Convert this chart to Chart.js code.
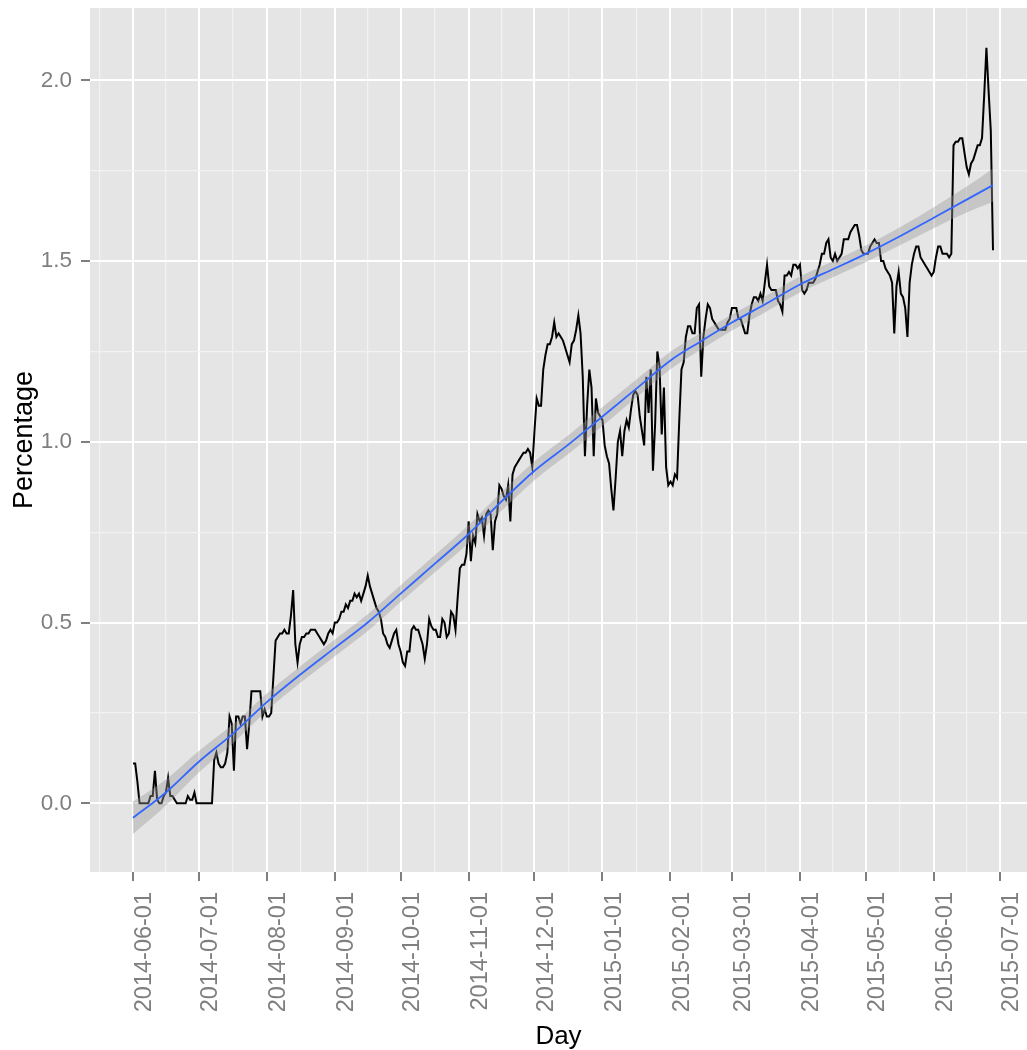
<!DOCTYPE html>
<html>
<head>
<meta charset="utf-8">
<title>Percentage by day</title>
<script src="https://cdn.jsdelivr.net/npm/chart.js@4.4.1/dist/chart.umd.min.js"></script>
<style>
  html, body { margin: 0; padding: 0; background: #fff; }
  #chart { display: block; }
</style>
</head>
<body>
<canvas id="chart" width="1027" height="1050"></canvas>
<script>
// daily series, one value per day starting at startDate
const startDate = '2014-06-01';
const values = [
    0.11, 0.11, 0.06, 0.00, 0.00, 0.00, 0.00, 0.00, 0.02, 0.02,
    0.09, 0.01, 0.00, 0.00, 0.02, 0.03, 0.07, 0.02, 0.02, 0.01,
    0.00, 0.00, 0.00, 0.00, 0.00, 0.02, 0.01, 0.01, 0.03, 0.00,
    0.00, 0.00, 0.00, 0.00, 0.00, 0.00, 0.00, 0.12, 0.14, 0.11,
    0.10, 0.10, 0.11, 0.14, 0.24, 0.22, 0.09, 0.24, 0.24, 0.22,
    0.24, 0.24, 0.15, 0.22, 0.31, 0.31, 0.31, 0.31, 0.31, 0.24,
    0.26, 0.24, 0.24, 0.25, 0.35, 0.45, 0.46, 0.47, 0.47, 0.48,
    0.47, 0.47, 0.52, 0.59, 0.44, 0.39, 0.44, 0.46, 0.46, 0.47,
    0.47, 0.48, 0.48, 0.48, 0.47, 0.46, 0.45, 0.44, 0.45, 0.47,
    0.48, 0.47, 0.50, 0.50, 0.51, 0.53, 0.53, 0.55, 0.54, 0.56,
    0.56, 0.58, 0.57, 0.58, 0.56, 0.58, 0.60, 0.63, 0.60, 0.58,
    0.56, 0.54, 0.53, 0.51, 0.47, 0.46, 0.44, 0.43, 0.45, 0.47,
    0.48, 0.44, 0.42, 0.39, 0.38, 0.42, 0.42, 0.48, 0.49, 0.48,
    0.48, 0.46, 0.44, 0.40, 0.44, 0.51, 0.49, 0.48, 0.48, 0.46,
    0.46, 0.51, 0.50, 0.46, 0.47, 0.53, 0.52, 0.48, 0.57, 0.65,
    0.66, 0.66, 0.69, 0.78, 0.67, 0.74, 0.72, 0.80, 0.78, 0.79,
    0.74, 0.80, 0.81, 0.80, 0.70, 0.78, 0.80, 0.88, 0.87, 0.85,
    0.84, 0.88, 0.78, 0.91, 0.93, 0.94, 0.95, 0.96, 0.97, 0.97,
    0.98, 0.97, 0.93, 1.03, 1.12, 1.10, 1.10, 1.20, 1.24, 1.27,
    1.27, 1.29, 1.33, 1.29, 1.30, 1.29, 1.28, 1.26, 1.24, 1.22,
    1.27, 1.28, 1.31, 1.35, 1.30, 1.18, 0.96, 1.10, 1.20, 1.15,
    0.96, 1.12, 1.08, 1.07, 1.06, 0.99, 0.96, 0.94, 0.87, 0.81,
    0.90, 1.00, 1.03, 0.96, 1.03, 1.06, 1.04, 1.09, 1.13, 1.14,
    1.13, 1.07, 1.03, 0.99, 1.18, 1.08, 1.20, 0.92, 1.05, 1.25,
    1.21, 1.02, 1.15, 0.93, 0.88, 0.89, 0.88, 0.91, 0.90, 1.06,
    1.20, 1.22, 1.29, 1.32, 1.32, 1.30, 1.30, 1.37, 1.38, 1.18,
    1.29, 1.34, 1.38, 1.37, 1.34, 1.33, 1.32, 1.31, 1.31, 1.31,
    1.31, 1.33, 1.34, 1.37, 1.37, 1.37, 1.34, 1.34, 1.32, 1.30,
    1.30, 1.35, 1.38, 1.40, 1.40, 1.39, 1.41, 1.39, 1.44, 1.49,
    1.43, 1.42, 1.42, 1.42, 1.39, 1.38, 1.36, 1.46, 1.46, 1.47,
    1.46, 1.49, 1.49, 1.48, 1.49, 1.42, 1.41, 1.42, 1.44, 1.44,
    1.44, 1.45, 1.47, 1.49, 1.52, 1.52, 1.55, 1.56, 1.51, 1.50,
    1.52, 1.50, 1.51, 1.52, 1.56, 1.56, 1.56, 1.58, 1.59, 1.60,
    1.60, 1.57, 1.53, 1.52, 1.52, 1.52, 1.54, 1.55, 1.56, 1.55,
    1.55, 1.50, 1.50, 1.48, 1.47, 1.46, 1.44, 1.30, 1.43, 1.47,
    1.41, 1.40, 1.37, 1.29, 1.44, 1.49, 1.52, 1.54, 1.54, 1.51,
    1.50, 1.49, 1.48, 1.47, 1.46, 1.47, 1.51, 1.54, 1.54, 1.52,
    1.52, 1.52, 1.51, 1.52, 1.82, 1.83, 1.83, 1.84, 1.84, 1.80,
    1.76, 1.74, 1.77, 1.78, 1.80, 1.82, 1.82, 1.84, 1.96, 2.09,
    1.97, 1.86, 1.53
];

// loess fit + confidence band, read at a handful of days
const smoothDays  = [0, 15, 30, 46, 61, 76, 92, 107, 122, 138, 153, 168, 183, 199,
                     214, 230, 245, 258, 273, 288, 304, 320, 334, 350, 365, 380, 392];
const smoothFit   = [-0.04, 0.03, 0.115, 0.195, 0.28, 0.355, 0.43, 0.50, 0.58, 0.665, 0.745, 0.835, 0.92, 0.995,
                     1.07, 1.15, 1.225, 1.275, 1.33, 1.38, 1.435, 1.48, 1.52, 1.57, 1.62, 1.67, 1.71];
const smoothLower = [-0.085, -0.006, 0.085, 0.169, 0.256, 0.332, 0.407, 0.477, 0.557, 0.641, 0.72, 0.809, 0.894, 0.969,
                     1.044, 1.125, 1.201, 1.252, 1.308, 1.358, 1.413, 1.458, 1.497, 1.545, 1.591, 1.634, 1.664];
const smoothUpper = [0.005, 0.066, 0.145, 0.221, 0.304, 0.378, 0.453, 0.523, 0.603, 0.689, 0.77, 0.861, 0.946, 1.021,
                     1.096, 1.175, 1.249, 1.298, 1.352, 1.402, 1.457, 1.502, 1.543, 1.595, 1.649, 1.706, 1.756];

const monthLabels = ['2014-06-01', '2014-07-01', '2014-08-01', '2014-09-01', '2014-10-01', '2014-11-01',
                     '2014-12-01', '2015-01-01', '2015-02-01', '2015-03-01', '2015-04-01', '2015-05-01',
                     '2015-06-01', '2015-07-01'];
const yTicks = [0, 0.5, 1, 1.5, 2];
const yMinorTicks = [0.25, 0.75, 1.25, 1.75];

const FONT = "'Liberation Sans', Arial, sans-serif";
const GREY_TEXT = '#7f7f7f';

function dayOffset(label) {
    return Math.round((Date.parse(label) - Date.parse(startDate)) / 86400000);
}

const monthDays = monthLabels.map(dayOffset);
// minor breaks sit half way between the majors (plus one before the first one)
const minorDays = [monthDays[0] - (monthDays[1] - monthDays[0]) / 2];
for (let i = 1; i < monthDays.length; i++) {
    minorDays.push((monthDays[i - 1] + monthDays[i]) / 2);
}

const dailyPoints = values.map((v, i) => ({ x: i, y: v }));
const smoothPoints = ys => smoothDays.map((d, i) => ({ x: d, y: ys[i] }));

// grey ggplot panel behind everything
const panelBg = {
    id: 'panelBg',
    beforeDraw(chart) {
        const { ctx, chartArea } = chart;
        ctx.save();
        ctx.fillStyle = '#ffffff';
        ctx.fillRect(0, 0, chart.width, chart.height);
        ctx.fillStyle = '#e5e5e5';
        ctx.fillRect(chartArea.left, chartArea.top, chartArea.right - chartArea.left, chartArea.bottom - chartArea.top);
        ctx.restore();
    }
};

function gridFor(isMajor) {
    return {
        drawTicks: true,
        tickLength: 9,
        tickWidth: 2,
        tickColor: c => (c.tick && isMajor(c.tick.value)) ? GREY_TEXT : 'rgba(0,0,0,0)',
        color: c => (c.tick && isMajor(c.tick.value)) ? '#ffffff' : '#f2f2f2',
        lineWidth: c => (c.tick && isMajor(c.tick.value)) ? 2 : 1.2
    };
}

const ctx = document.getElementById('chart').getContext('2d');
const chart = new Chart(ctx, {
    type: 'line',
    data: {
        datasets: [
            {
                label: 'Percentage',
                data: dailyPoints,
                borderColor: '#000000',
                borderWidth: 2,
                pointRadius: 0,
                tension: 0,
                fill: false,
                order: 3
            },
            {
                label: 'lower',
                data: smoothPoints(smoothLower),
                borderWidth: 0,
                borderColor: 'rgba(0,0,0,0)',
                pointRadius: 0,
                cubicInterpolationMode: 'monotone',
                fill: false,
                order: 2
            },
            {
                label: 'upper',
                data: smoothPoints(smoothUpper),
                borderWidth: 0,
                borderColor: 'rgba(0,0,0,0)',
                backgroundColor: 'rgba(153,153,153,0.4)',
                pointRadius: 0,
                cubicInterpolationMode: 'monotone',
                fill: '-1',
                order: 1
            },
            {
                label: 'smooth',
                data: smoothPoints(smoothFit),
                borderColor: '#3366ff',
                borderWidth: 1.8,
                pointRadius: 0,
                cubicInterpolationMode: 'monotone',
                fill: false,
                order: 0
            }
        ]
    },
    options: {
        animation: false,
        responsive: false,
        devicePixelRatio: 1,
        layout: { padding: { top: 8, right: 0, bottom: 0, left: 0 } },
        plugins: {
            legend: { display: false },
            tooltip: { enabled: false }
        },
        scales: {
            x: {
                type: 'linear',
                min: -19.6,
                max: 407.5,
                afterBuildTicks: scale => {
                    scale.ticks = minorDays.concat(monthDays)
                        .filter(v => v >= scale.min && v <= scale.max)
                        .sort((a, b) => a - b)
                        .map(v => ({ value: v }));
                },
                afterFit: scale => {
                    scale.height = 178;
                    scale.paddingLeft = 0;
                    scale.paddingRight = 0;
                },
                ticks: {
                    autoSkip: false,
                    minRotation: 90,
                    maxRotation: 90,
                    padding: 11,
                    labelOffset: 12,
                    color: GREY_TEXT,
                    font: { family: FONT, size: 23.5 },
                    callback: v => {
                        const i = monthDays.indexOf(v);
                        return i >= 0 ? monthLabels[i] : '';
                    }
                },
                grid: gridFor(v => monthDays.includes(v)),
                border: { display: false },
                title: {
                    display: true,
                    text: 'Day',
                    color: '#000000',
                    font: { family: FONT, size: 26 },
                    padding: { top: 0, bottom: -2 }
                }
            },
            y: {
                type: 'linear',
                min: -0.19,
                max: 2.2,
                afterBuildTicks: scale => {
                    scale.ticks = yMinorTicks.concat(yTicks)
                        .sort((a, b) => a - b)
                        .map(v => ({ value: v }));
                },
                afterFit: scale => {
                    scale.width = 90;
                    scale.paddingTop = 0;
                    scale.paddingBottom = 0;
                },
                ticks: {
                    padding: 9,
                    color: GREY_TEXT,
                    font: { family: FONT, size: 22.5 },
                    callback: v => yTicks.includes(v) ? v.toFixed(1) : ''
                },
                grid: gridFor(v => yTicks.includes(v)),
                border: { display: false },
                title: {
                    display: true,
                    text: 'Percentage',
                    color: '#000000',
                    font: { family: FONT, size: 27 },
                    padding: { top: 8, bottom: 0 }
                }
            }
        }
    },
    plugins: [panelBg]
});
</script>
</body>
</html>
